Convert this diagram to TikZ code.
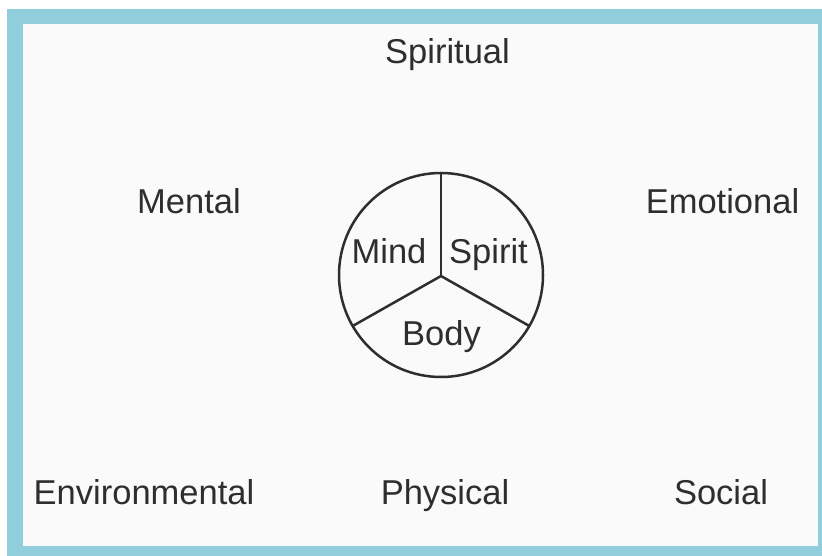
\documentclass[tikz,border=0pt]{standalone}
\usepackage{fontspec}
\setmainfont{Liberation Sans}
\definecolor{frameblue}{HTML}{90CEDB}
\definecolor{paper}{HTML}{FAFAFA}
\definecolor{ink}{HTML}{2E2E2E}
\begin{document}
\begin{tikzpicture}[x=1pt,y=-1pt,
  lbl/.style={anchor=base,text=ink,font=\fontsize{34.5}{40}\selectfont,inner sep=0pt},
  wheel/.style={circle,draw=ink,line width=2.5pt,minimum size=204pt,inner sep=0pt,outer sep=0pt},
  spoke/.style={draw=ink,line width=2.5pt}]
\useasboundingbox (0,0) rectangle (822,556);
\fill[white] (0,0) rectangle (822,556);
\fill[frameblue] (7,9) rectangle (822,556);
\fill[paper] (23,24) rectangle (818,546);
% wheel
\node[wheel] (c) at (441,275) {};
\coordinate (hub) at (441,276);
\draw[spoke] (hub) -- (c.90);
\draw[spoke] (hub) -- (c.210);
\draw[spoke] (hub) -- (c.330);
\node[lbl] (mind) at (389,264) {Mind};
\node[lbl] (spirit) at (488.5,264) {Spirit};
\node[lbl] (body) at (441.5,345) {Body};
% outer labels
\node[lbl] (spiritual) at (447.5,64) {Spiritual};
\node[lbl] (mental) at (189,214) {Mental};
\node[lbl] (emotional) at (722.5,214) {Emotional};
\node[lbl] (environmental) at (144,504) {Environmental};
\node[lbl] (physical) at (445,504) {Physical};
\node[lbl] (social) at (721,504) {Social};
\end{tikzpicture}
\end{document}
